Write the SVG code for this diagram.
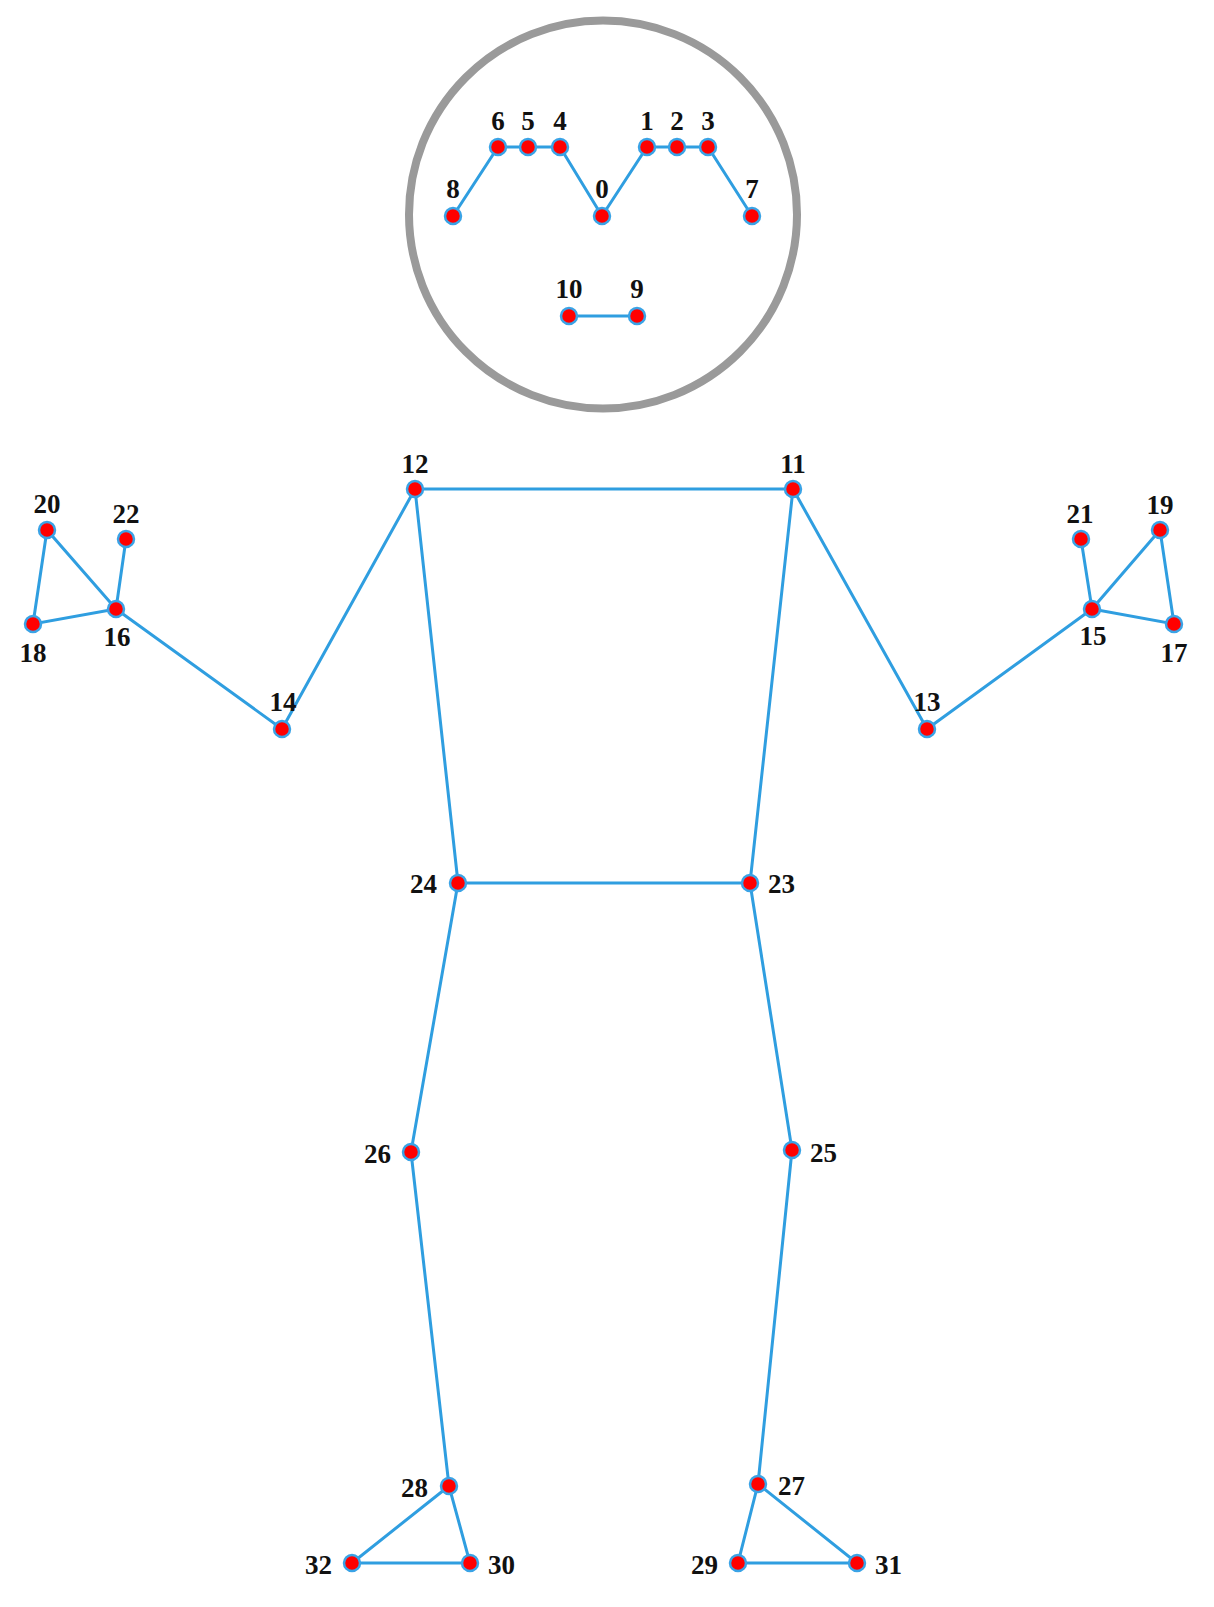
<svg xmlns="http://www.w3.org/2000/svg" width="1214" height="1607" viewBox="0 0 1214 1607">
<style>
.e{stroke:#2f9ee0;stroke-width:3;fill:none;stroke-linecap:round}
.n{fill:#ff0000;stroke:#3aa3e6;stroke-width:2.5}
.t{font-family:"Liberation Serif","Times New Roman",serif;font-weight:bold;font-size:27px;fill:#111;text-anchor:middle}
.s{text-anchor:start}
.r{text-anchor:end}
</style>
<rect width="1214" height="1607" fill="#fff"/>
<circle id="head" cx="603" cy="214.5" r="194" fill="none" stroke="#9a9a9a" stroke-width="8"/>
<g id="connectors" class="e">
<polyline points="453,216 498,147 528,147 560,147 602,216 647,147 677,147 708,147 752,216"/>
<line x1="569" y1="316" x2="637" y2="316"/>
<line x1="415" y1="489" x2="793" y2="489"/>
<line x1="415" y1="489" x2="282" y2="729"/>
<line x1="282" y1="729" x2="116" y2="609"/>
<polygon points="116,609 47,530 33,624"/>
<line x1="116" y1="609" x2="126" y2="539"/>
<line x1="793" y1="489" x2="927" y2="729"/>
<line x1="927" y1="729" x2="1092" y2="609"/>
<polygon points="1092,609 1160,530 1174,624"/>
<line x1="1092" y1="609" x2="1081" y2="539"/>
<line x1="415" y1="489" x2="458" y2="883"/>
<line x1="793" y1="489" x2="750" y2="883"/>
<line x1="458" y1="883" x2="750" y2="883"/>
<line x1="458" y1="883" x2="411" y2="1152"/>
<line x1="411" y1="1152" x2="449" y2="1486"/>
<polygon points="449,1486 352,1563 470,1563"/>
<line x1="750" y1="883" x2="792" y2="1150"/>
<line x1="792" y1="1150" x2="758" y2="1484"/>
<polygon points="758,1484 738,1563 857,1563"/>
</g>
<g id="n0"><circle class="n" cx="602" cy="216" r="8"/><text class="t" x="602" y="198">0</text></g>
<g id="n1"><circle class="n" cx="647" cy="147" r="8"/><text class="t" x="647" y="130">1</text></g>
<g id="n2"><circle class="n" cx="677" cy="147" r="8"/><text class="t" x="677" y="130">2</text></g>
<g id="n3"><circle class="n" cx="708" cy="147" r="8"/><text class="t" x="708" y="130">3</text></g>
<g id="n4"><circle class="n" cx="560" cy="147" r="8"/><text class="t" x="560" y="130">4</text></g>
<g id="n5"><circle class="n" cx="528" cy="147" r="8"/><text class="t" x="528" y="130">5</text></g>
<g id="n6"><circle class="n" cx="498" cy="147" r="8"/><text class="t" x="498" y="130">6</text></g>
<g id="n7"><circle class="n" cx="752" cy="216" r="8"/><text class="t" x="752" y="198">7</text></g>
<g id="n8"><circle class="n" cx="453" cy="216" r="8"/><text class="t" x="453" y="198">8</text></g>
<g id="n9"><circle class="n" cx="637" cy="316" r="8"/><text class="t" x="637" y="298">9</text></g>
<g id="n10"><circle class="n" cx="569" cy="316" r="8"/><text class="t" x="569" y="298">10</text></g>
<g id="n11"><circle class="n" cx="793" cy="489" r="8"/><text class="t" x="793" y="473">11</text></g>
<g id="n12"><circle class="n" cx="415" cy="489" r="8"/><text class="t" x="415" y="473">12</text></g>
<g id="n13"><circle class="n" cx="927" cy="729" r="8"/><text class="t" x="927" y="711">13</text></g>
<g id="n14"><circle class="n" cx="282" cy="729" r="8"/><text class="t" x="283" y="711">14</text></g>
<g id="n15"><circle class="n" cx="1092" cy="609" r="8"/><text class="t" x="1093" y="645">15</text></g>
<g id="n16"><circle class="n" cx="116" cy="609" r="8"/><text class="t" x="117" y="646">16</text></g>
<g id="n17"><circle class="n" cx="1174" cy="624" r="8"/><text class="t" x="1174" y="662">17</text></g>
<g id="n18"><circle class="n" cx="33" cy="624" r="8"/><text class="t" x="33" y="662">18</text></g>
<g id="n19"><circle class="n" cx="1160" cy="530" r="8"/><text class="t" x="1160" y="514">19</text></g>
<g id="n20"><circle class="n" cx="47" cy="530" r="8"/><text class="t" x="47" y="513">20</text></g>
<g id="n21"><circle class="n" cx="1081" cy="539" r="8"/><text class="t" x="1080" y="523">21</text></g>
<g id="n22"><circle class="n" cx="126" cy="539" r="8"/><text class="t" x="126" y="523">22</text></g>
<g id="n23"><circle class="n" cx="750" cy="883" r="8"/><text class="t s" x="768" y="893">23</text></g>
<g id="n24"><circle class="n" cx="458" cy="883" r="8"/><text class="t r" x="437" y="893">24</text></g>
<g id="n25"><circle class="n" cx="792" cy="1150" r="8"/><text class="t s" x="810" y="1162">25</text></g>
<g id="n26"><circle class="n" cx="411" cy="1152" r="8"/><text class="t r" x="391" y="1163">26</text></g>
<g id="n27"><circle class="n" cx="758" cy="1484" r="8"/><text class="t s" x="778" y="1495">27</text></g>
<g id="n28"><circle class="n" cx="449" cy="1486" r="8"/><text class="t r" x="428" y="1497">28</text></g>
<g id="n29"><circle class="n" cx="738" cy="1563" r="8"/><text class="t r" x="718" y="1574">29</text></g>
<g id="n30"><circle class="n" cx="470" cy="1563" r="8"/><text class="t s" x="488" y="1574">30</text></g>
<g id="n31"><circle class="n" cx="857" cy="1563" r="8"/><text class="t s" x="875" y="1574">31</text></g>
<g id="n32"><circle class="n" cx="352" cy="1563" r="8"/><text class="t r" x="332" y="1574">32</text></g>
</svg>
